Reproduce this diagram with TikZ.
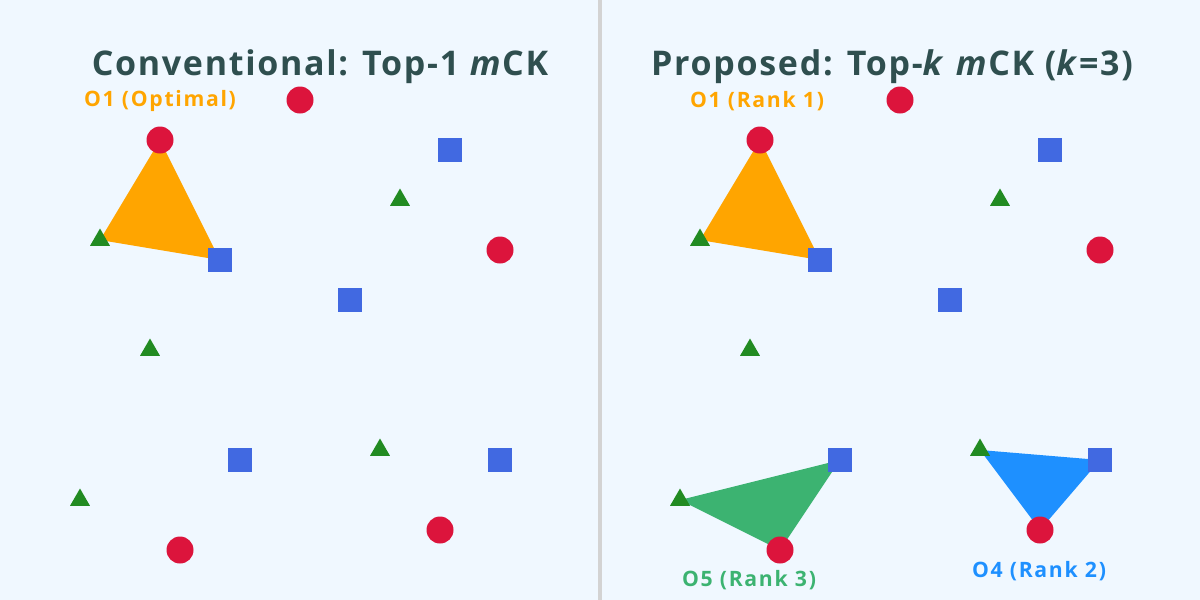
\documentclass[tikz,border=0pt]{standalone}
\usepackage{fontspec}
\setmainfont{Open Sans}
\newfontfamily\ttlfont{Open Sans}[LetterSpace=5]
\newfontfamily\lblfont{Open Sans}[LetterSpace=8]
\usetikzlibrary{shapes.geometric}
\definecolor{bgc}{HTML}{F0F8FF}
\definecolor{crim}{HTML}{DC143C}
\definecolor{rblue}{HTML}{4169E1}
\definecolor{fgreen}{HTML}{228B22}
\definecolor{orng}{HTML}{FFA500}
\definecolor{msgreen}{HTML}{3CB371}
\definecolor{dblue}{HTML}{1E90FF}
\definecolor{dslate}{HTML}{2F4F4F}
\definecolor{lgray}{HTML}{D3D3D3}
\tikzset{
  circ/.style={circle,fill=crim,inner sep=0pt,minimum size=27pt},
  sq/.style={rectangle,fill=rblue,inner sep=0pt,minimum size=24pt},
  tri/.style={regular polygon,regular polygon sides=3,fill=fgreen,inner sep=0pt,minimum size=23pt},
  ttl/.style={font=\ttlfont\bfseries\fontsize{34}{40}\selectfont,text=dslate,inner sep=0pt},
  lbl/.style={font=\lblfont\bfseries\fontsize{21.2}{24}\selectfont,inner sep=0pt},
}
\begin{document}
\begin{tikzpicture}[x=1pt,y=-1pt]
\useasboundingbox (0,0) rectangle (1200,600);
\fill[bgc] (0,0) rectangle (1200,600);
\coordinate (dt) at (600,0);
\coordinate (db) at (600,600);
\draw[lgray,line width=4pt] (dt) -- (db);
% point coordinates
\foreach \s/\o in {L/0,R/600}{
  \coordinate (c\s1) at (300+\o,100);
  \coordinate (c\s2) at (160+\o,140);
  \coordinate (c\s3) at (500+\o,250);
  \coordinate (c\s4) at (180+\o,550);
  \coordinate (c\s5) at (440+\o,530);
  \coordinate (s\s1) at (450+\o,150);
  \coordinate (s\s2) at (220+\o,260);
  \coordinate (s\s3) at (350+\o,300);
  \coordinate (s\s4) at (240+\o,460);
  \coordinate (s\s5) at (500+\o,460);
  \coordinate (t\s1) at (400+\o,200);
  \coordinate (t\s2) at (100+\o,240);
  \coordinate (t\s3) at (150+\o,350);
  \coordinate (t\s4) at (380+\o,450);
  \coordinate (t\s5) at (80+\o,500);
}
% candidate regions
\fill[orng] (cL2) -- (sL2) -- (tL2) -- cycle;
\fill[orng] (cR2) -- (sR2) -- (tR2) -- cycle;
\fill[dblue] (tR4) -- (sR5) -- (cR5) -- cycle;
\fill[msgreen] (tR5) -- (sR4) -- (cR4) -- cycle;
% markers
\foreach \s in {L,R}{
  \foreach \i in {1,...,5}{
    \node[circ] (C\s\i) at (c\s\i) {};
    \node[sq] (S\s\i) at (s\s\i) {};
    \node[tri] (T\s\i) at (t\s\i) {};
  }
}
% titles
\node[ttl] (title1) at (320,67) {Conventional: Top-1 \textit{m}CK};
\node[ttl] (title2) at (892,67) {Proposed: Top-\textit{k} \textit{m}CK (\textit{k}=3)};
% labels
\node[lbl,text=orng] (o1l) at (160,101) {O1 (Optimal)};
\node[lbl,text=orng] (o1r) at (757,101) {O1 (Rank 1)};
\node[lbl,text=msgreen] (o5) at (749,580) {O5 (Rank 3)};
\node[lbl,text=dblue] (o4) at (1039,571) {O4 (Rank 2)};
\end{tikzpicture}
\end{document}
